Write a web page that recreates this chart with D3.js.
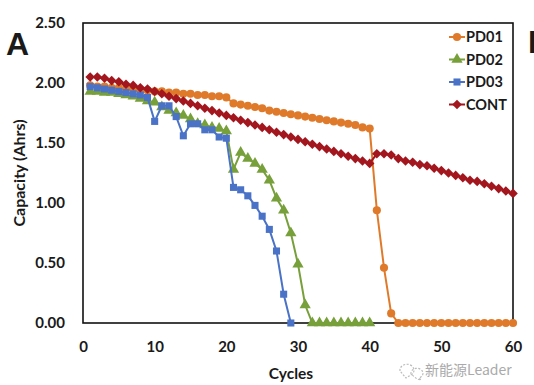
<!DOCTYPE html>
<html>
<head>
<meta charset="utf-8">
<script src="https://cdn.jsdelivr.net/npm/d3@7"></script>
<style>
  body { margin: 0; background: #fff; }
  text { font-family: Lato, "Open Sans", sans-serif; font-weight: bold; fill: #1a1a1a; }
</style>
</head>
<body>
<div id="chart"></div>
<script>
// capacity per cycle, cycle 1 first
var pd01 = [1.98, 1.97, 1.97, 1.96, 1.96, 1.95, 1.95, 1.94, 1.94, 1.93,
            1.93, 1.92, 1.92, 1.91, 1.91, 1.90, 1.90, 1.89, 1.89, 1.88,
            1.83, 1.82, 1.81, 1.80, 1.79, 1.77, 1.76, 1.75, 1.74, 1.73,
            1.72, 1.71, 1.70, 1.69, 1.68, 1.67, 1.66, 1.65, 1.63, 1.62,
            0.94, 0.46, 0.08, 0, 0, 0, 0, 0, 0, 0,
            0, 0, 0, 0, 0, 0, 0, 0, 0, 0];
var pd02 = [1.93, 1.93, 1.92, 1.92, 1.91, 1.90, 1.89, 1.87, 1.85, 1.84,
            1.80, 1.77, 1.75, 1.73, 1.70, 1.66, 1.65, 1.63, 1.62, 1.60,
            1.28, 1.42, 1.37, 1.33, 1.28, 1.19, 1.04, 0.94, 0.75, 0.49,
            0.15, 0, 0, 0, 0, 0, 0, 0, 0, 0];
var pd03 = [1.97, 1.96, 1.95, 1.94, 1.93, 1.92, 1.91, 1.90, 1.88, 1.68,
            1.81, 1.81, 1.72, 1.56, 1.66, 1.66, 1.61, 1.61, 1.55, 1.54,
            1.13, 1.11, 1.06, 0.98, 0.89, 0.78, 0.60, 0.24, 0];
var cont = [2.05, 2.05, 2.04, 2.02, 2.01, 1.99, 1.98, 1.96, 1.95, 1.93,
            1.91, 1.89, 1.87, 1.85, 1.83, 1.81, 1.79, 1.77, 1.75, 1.73,
            1.71, 1.69, 1.67, 1.65, 1.63, 1.61, 1.59, 1.57, 1.55, 1.53,
            1.51, 1.49, 1.47, 1.45, 1.43, 1.41, 1.39, 1.37, 1.35, 1.33,
            1.41, 1.41, 1.40, 1.37, 1.35, 1.34, 1.32, 1.31, 1.29, 1.27,
            1.25, 1.23, 1.21, 1.19, 1.18, 1.16, 1.14, 1.12, 1.10, 1.08];

var seriesNames = ["PD01", "PD02", "PD03", "CONT"];
var seriesValues = [pd01, pd02, pd03, cont];
var seriesColors = ["#e07a2b", "#77a03b", "#4a72c6", "#a3161e"];
var xTicks = [0, 10, 20, 30, 40, 50, 60];
var yTicks = [0, 0.5, 1.0, 1.5, 2.0, 2.5];

var W = 534, H = 385;
var margin = { top: 23, right: 21, bottom: 62, left: 83 };
var width = W - margin.left - margin.right;
var height = H - margin.top - margin.bottom;

var svg = d3.select("#chart")
  .append("svg")
  .attr("width", W)
  .attr("height", H);

var g = svg.append("g")
  .attr("transform", "translate(" + margin.left + "," + margin.top + ")");

var x = d3.scaleLinear().domain([0, 60]).range([0, width]);
var y = d3.scaleLinear().domain([0, 2.5]).range([height, 0]);

// axes: labels only, frame drawn separately
var xAxis = g.append("g")
  .attr("transform", "translate(0," + height + ")")
  .call(d3.axisBottom(x).tickValues(xTicks).tickSize(0).tickPadding(18).tickFormat(d3.format("d")));
xAxis.select(".domain").remove();
xAxis.selectAll("text").style("font-size", "15px").style("font-family", "Lato, sans-serif");

var yAxis = g.append("g")
  .call(d3.axisLeft(y).tickValues(yTicks).tickSize(0).tickPadding(18).tickFormat(d3.format(".2f")));
yAxis.select(".domain").remove();
yAxis.selectAll("text").style("font-size", "15px").style("font-family", "Lato, sans-serif");

// plot frame
g.append("rect")
  .attr("width", width)
  .attr("height", height)
  .attr("fill", "none")
  .attr("stroke", "#111")
  .attr("stroke-width", 1.6);

var symbols = [
  d3.symbol().type(d3.symbolCircle).size(52),
  d3.symbol().type(d3.symbolTriangle).size(55),
  d3.symbol().type(d3.symbolSquare).size(50),
  d3.symbol().type(d3.symbolSquare).size(46)
];
var rotations = [0, 0, 0, 45];

var line = d3.line()
  .x(function(d, i) { return x(i + 1); })
  .y(function(d) { return y(d); });

seriesValues.forEach(function(vals, k) {
  var s = g.append("g").attr("class", "series-" + seriesNames[k]);
  s.append("path")
    .datum(vals)
    .attr("d", line)
    .attr("fill", "none")
    .attr("stroke", seriesColors[k])
    .attr("stroke-width", 2);
  s.selectAll("path.pt")
    .data(vals)
    .enter().append("path")
    .attr("class", "pt")
    .attr("d", symbols[k])
    .attr("fill", seriesColors[k])
    .attr("transform", function(d, i) {
      return "translate(" + x(i + 1) + "," + y(d) + ") rotate(" + rotations[k] + ")";
    });
});

// legend
var legend = svg.append("g").attr("transform", "translate(449,37)");
seriesNames.forEach(function(name, k) {
  var row = legend.append("g").attr("transform", "translate(0," + (k * 22.5) + ")");
  row.append("line")
    .attr("x1", 0).attr("x2", 16)
    .attr("stroke", seriesColors[k]).attr("stroke-width", 2);
  row.append("path")
    .attr("d", symbols[k])
    .attr("fill", seriesColors[k])
    .attr("transform", "translate(8,0) rotate(" + rotations[k] + ")");
  row.append("text")
    .attr("x", 17)
    .attr("dy", "0.36em")
    .style("font-size", "14.5px")
    .text(name);
});

// axis titles
svg.append("text")
  .attr("x", margin.left + width / 2 - 7)
  .attr("y", 379)
  .attr("text-anchor", "middle")
  .style("font-size", "15.5px")
  .text("Cycles");

svg.append("text")
  .attr("transform", "translate(25,173) rotate(-90)")
  .attr("text-anchor", "middle")
  .style("font-size", "16px")
  .text("Capacity (Ahrs)");

// panel letters
svg.append("text")
  .attr("x", 6)
  .attr("y", 55)
  .style("font-family", "Liberation Sans, Arial, sans-serif")
  .style("font-size", "32px")
  .text("A");

svg.append("text")
  .attr("x", 528)
  .attr("y", 53)
  .style("font-family", "Liberation Sans, Arial, sans-serif")
  .style("font-size", "32px")
  .text("B");

// watermark
var wm = svg.append("g").attr("transform", "translate(398,362)");
wm.append("path")
  .attr("d", "M2,9 a7,6 0 1,1 9,5 l-3,2 z")
  .attr("fill", "none").attr("stroke", "#bbb").attr("stroke-width", 1.2)
  .attr("stroke-dasharray", "2,1.5");
wm.append("path")
  .attr("d", "M13,12 a6,5 0 1,1 8,4 l2,2 l-4,-1 z")
  .attr("fill", "none").attr("stroke", "#bbb").attr("stroke-width", 1.2)
  .attr("stroke-dasharray", "2,1.5");
wm.append("text")
  .attr("x", 27)
  .attr("y", 13)
  .style("font-family", "Noto Sans CJK SC, sans-serif")
  .style("font-weight", "normal")
  .style("font-size", "14px")
  .style("fill", "#aaa")
  .text("新能源Leader");
</script>
</body>
</html>
